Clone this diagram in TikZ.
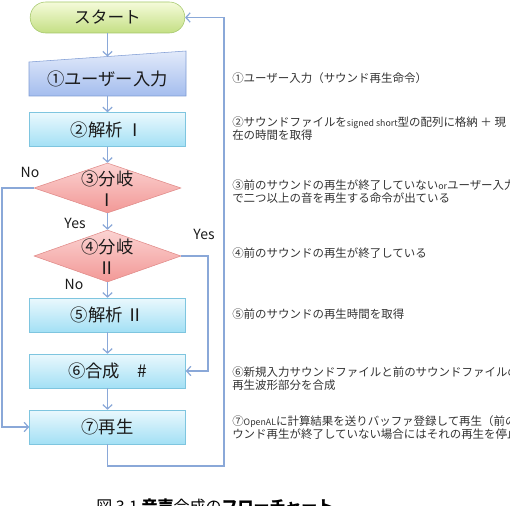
\documentclass[tikz,border=0pt]{standalone}
\usepackage{fontspec}
\setmainfont{Noto Sans CJK JP}
\usetikzlibrary{arrows.meta,shapes.geometric}
\definecolor{linec}{HTML}{8AA8D8}
\definecolor{starttop}{HTML}{F5FBDA}
\definecolor{startbot}{HTML}{C4DF84}
\definecolor{startbd}{HTML}{A3C66A}
\definecolor{bluetop}{HTML}{E2EAFA}
\definecolor{bluebot}{HTML}{A4BDEE}
\definecolor{bluebd}{HTML}{7F9CD4}
\definecolor{cyantop}{HTML}{EAF8FD}
\definecolor{cyanbot}{HTML}{A3E0F5}
\definecolor{cyanbd}{HTML}{7EC5DF}
\definecolor{pinktop}{HTML}{FBD3D2}
\definecolor{pinkbot}{HTML}{F29896}
\definecolor{pinkbd}{HTML}{E08A88}
\definecolor{txtc}{HTML}{333333}
\definecolor{lblc}{HTML}{1A1A1A}
\newcommand{\boxfont}{\fontsize{13}{15.75}\selectfont}
\newcommand{\notefont}{\fontsize{8.6}{9.75}\selectfont}
\newcommand{\latsmall}[1]{{\fontsize{6.6}{9.75}\selectfont #1}}
\begin{document}
\begin{tikzpicture}[x=0.75pt,y=-0.75pt,
  every node/.style={inner sep=0pt},
  flow/.style={draw=linec, line width=0.9pt},
  arr/.style={flow, -{Straight Barb[length=3.2pt,width=7pt,line width=0.9pt]}},
  startbox/.style={rectangle, rounded corners=11.6pt, draw=startbd, top color=starttop, bottom color=startbot, minimum width=116pt, minimum height=23.25pt, font=\fontsize{12.5}{15}\selectfont, text=lblc},
  procbox/.style={rectangle, draw=cyanbd, top color=cyantop, bottom color=cyanbot, minimum width=117pt, minimum height=25.5pt, font=\boxfont, text=lblc},
  inbox/.style={rectangle, minimum width=117pt, minimum height=25.5pt, font=\boxfont, text=lblc},
  dia/.style={diamond, draw=pinkbd, top color=pinktop, bottom color=pinkbot, minimum width=110.25pt},
  dtext/.style={align=center, font=\boxfont, text=lblc},
  yn/.style={font=\fontsize{10.5}{12}\selectfont, text=lblc},
  note/.style={anchor=west, align=left, font=\notefont, text=txtc},
]
\useasboundingbox (0,0) rectangle (510,506);
\begin{scope}
\clip (0,0) rectangle (510,506);

% start
\node[startbox] (start) at (107.5,17.5) {スタート};

% manual input shape
\shade[top color=bluetop, bottom color=bluebot, draw=bluebd] (29,62) -- (186,51) -- (186,96) -- (29,96) -- cycle;
\node[inbox] (in1) at (107.5,79) {①ユーザー入力};
\coordinate (in1top) at (107.5,56.5);

% process boxes
\node[procbox] (a2) at (107.5,129.5) {②解析 Ⅰ};
\node[dia, minimum height=37.5pt] (d1) at (107.5,188) {};
\node[dtext] (d1t) at (107.5,188.5) {③分岐\\Ⅰ};
\node[dia, minimum height=39pt] (d2) at (107.5,256) {};
\node[dtext] (d2t) at (107.5,257) {④分岐\\Ⅱ};
\node[procbox] (a5) at (107.5,315) {⑤解析 Ⅱ};
\node[procbox] (a6) at (107.5,371) {⑥合成　\#};
\node[procbox] (a7) at (107.5,427) {⑦再生};

% helper coordinates
\coordinate (nol) at (2,188);
\coordinate (yesr) at (208,256);
\coordinate (lp) at (224,466);

% connectors
\draw[arr] (start.south) -- (in1top);
\draw[arr] (in1.south) -- (a2.north);
\draw[arr] (a2.south) -- (d1.north);
\draw[arr] (d1.south) -- (d2.north);
\draw[arr] (d2.south) -- (a5.north);
\draw[arr] (a5.south) -- (a6.north);
\draw[arr] (a6.south) -- (a7.north);
\draw[arr] (d1.west) -- (nol) |- (a7.west);
\draw[arr] (d2.east) -- (yesr) |- (a6.east);
\draw[arr] (a7.south) |- (lp) |- (start.east);

% yes / no labels
\node[yn] (no1) at (30,172) {No};
\node[yn] (yes1) at (75,223) {Yes};
\node[yn] (yes2) at (204,234) {Yes};
\node[yn] (no2) at (74,284) {No};

% notes
\node[note] (t1) at (232,78) {①ユーザー入力（サウンド再生命令）};
\node[note] (t2) at (232,128.5) {②サウンドファイルを\latsmall{signed short}型の配列に格納 ＋ 現\\在の時間を取得};
\node[note] (t3) at (232,191.5) {③前のサウンドの再生が終了していない\latsmall{or}ユーザー入力\\で二つ以上の音を再生する命令が出ている};
\node[note] (t4) at (232,253) {④前のサウンドの再生が終了している};
\node[note] (t5) at (232,314) {⑤前のサウンドの再生時間を取得};
\node[note] (t6) at (232,378.5) {⑥新規入力サウンドファイルと前のサウンドファイルの未\\再生波形部分を合成};
\node[note] (t7) at (232,427.5) {⑦\latsmall{OpenAL}に計算結果を送りバッファ登録して再生（前のサ\\ウンド再生が終了していない場合にはそれの再生を停止};

% caption (cut off at the lower edge)
\node[anchor=north west, font=\fontsize{12}{14}\selectfont] (cap) at (96,499) {図 3.1 {\bfseries 音声}合成の{\bfseries フローチャート}};
\end{scope}
\end{tikzpicture}
\end{document}
